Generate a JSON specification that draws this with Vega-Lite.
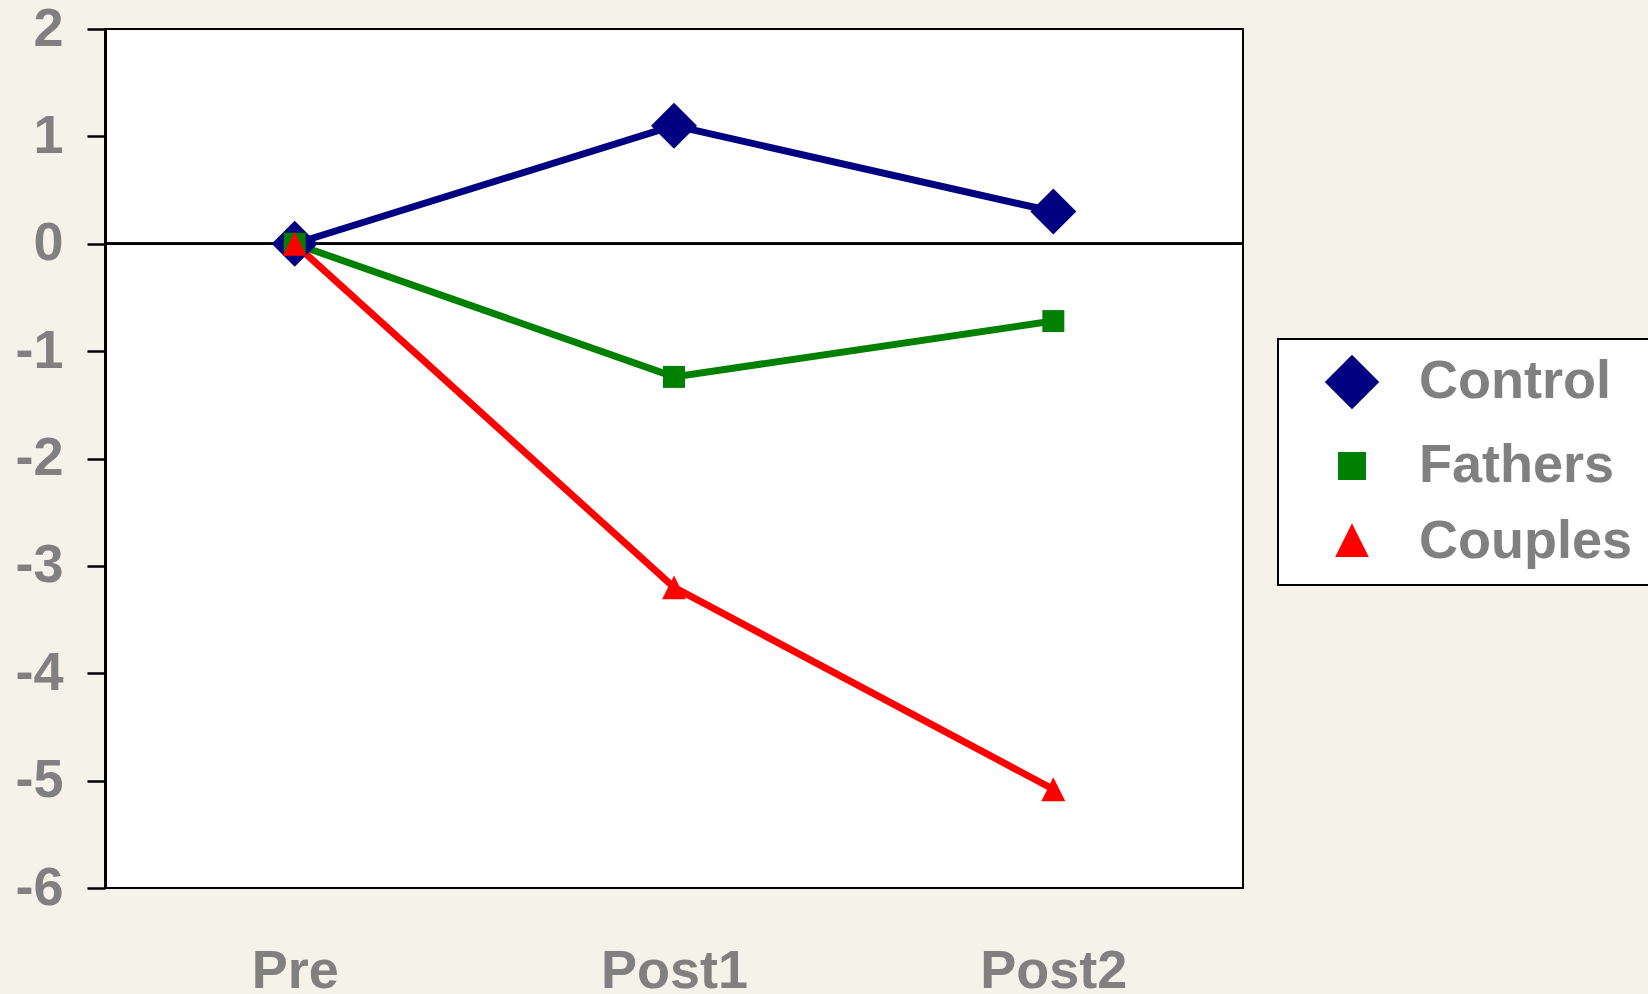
{
  "$schema": "https://vega.github.io/schema/vega-lite/v6.json",
  "width": 1138,
  "height": 859,
  "autosize": "none",
  "padding": {"left": 105, "top": 29, "right": 405, "bottom": 106},
  "background": "#F5F2EA",
  "data": {
    "values": [
      {"time": "Pre", "group": "Control", "value": 0},
      {"time": "Post1", "group": "Control", "value": 1.1},
      {"time": "Post2", "group": "Control", "value": 0.3},
      {"time": "Pre", "group": "Fathers", "value": 0},
      {"time": "Post1", "group": "Fathers", "value": -1.24},
      {"time": "Post2", "group": "Fathers", "value": -0.72},
      {"time": "Pre", "group": "Couples", "value": 0},
      {"time": "Post1", "group": "Couples", "value": -3.2},
      {"time": "Post2", "group": "Couples", "value": -5.08}
    ]
  },
  "layer": [
    {
      "mark": {"type": "rule", "color": "black", "strokeWidth": 2},
      "encoding": {"y": {"datum": 0, "type": "quantitative", "scale": {"domain": [-6, 2], "nice": false, "zero": false}, "axis": {"values": [-6, -5, -4, -3, -2, -1, 0, 1, 2], "labelExpr": "datum.value < 0 ? '-' + abs(datum.value) : '' + datum.value"}}}
    },
    {
      "mark": {"type": "line", "strokeWidth": 7},
      "encoding": {
        "x": {"field": "time", "type": "ordinal", "sort": ["Pre", "Post1", "Post2"]},
        "y": {"field": "value", "type": "quantitative", "scale": {"domain": [-6, 2], "nice": false, "zero": false}},
        "color": {"field": "group", "type": "nominal", "scale": {"domain": ["Control", "Fathers", "Couples"], "range": ["#000080", "#008000", "#FF0000"]}}
      }
    },
    {
      "mark": {"type": "point", "filled": true, "opacity": 1, "size": 2116},
      "encoding": {
        "x": {"field": "time", "type": "ordinal", "sort": ["Pre", "Post1", "Post2"]},
        "y": {"field": "value", "type": "quantitative"},
        "color": {
          "field": "group", "type": "nominal",
          "scale": {"domain": ["Control", "Fathers", "Couples"], "range": ["#000080", "#008000", "#FF0000"]},
          "legend": {
            "orient": "none", "legendX": 1173, "legendY": 310,
            "title": null,
            "padding": 16,
            "fillColor": "white", "strokeColor": "black",
            "symbolSize": 2116, "symbolStrokeWidth": 6, "symbolOffset": 31,
            "labelFont": "Liberation Sans", "labelFontSize": 54, "labelFontWeight": "bold", "labelColor": "#808080",
            "labelOffset": 40, "rowPadding": 22, "labelLimit": 400,
            "encode": {
              "symbols": {
                "shape": {"value": {"expr": "datum.value === 'Control' ? 'M-2.26,0H2.26M-0.68,0L0,-0.72L0.68,0L0,0.72Z' : datum.value === 'Fathers' ? 'M-2.26,0H2.26M-0.35,-0.35H0.35V0.35H-0.35Z' : 'M-2.26,0H2.26M0,-0.4L0.37,0.37L-0.37,0.37Z'"}},
                "stroke": {"value": {"expr": "datum.value === 'Control' ? '#000080' : datum.value === 'Fathers' ? '#008000' : '#FF0000'"}},
                "strokeWidth": {"value": 6.5},
                "opacity": {"value": 1}
              }
            }
          }
        },
        "shape": {
          "field": "group", "type": "nominal",
          "scale": {"domain": ["Control", "Fathers", "Couples"], "range": ["M-1,0L0,-1L1,0L0,1Z", "M-0.478,-0.478H0.478V0.478H-0.478Z", "M0,-0.52L0.52,0.52L-0.52,0.52Z"]}
        }
      }
    }
  ],
  "config": {
    "view": {"stroke": "black", "strokeWidth": 2, "fill": "white"},
    "font": "Liberation Sans",
    "legend": {"strokeWidth": 2},
    "axisX": {
      "title": null, "domain": false, "ticks": false, "tickSize": 0, "labelPadding": 56, "labelAngle": 0,
      "labelFontSize": 54, "labelFontWeight": "bold", "labelColor": "#808080", "labelFont": "Liberation Sans", "grid": false
    },
    "axisY": {
      "title": null,
      "domainColor": "black", "domainWidth": 3, "tickColor": "black", "tickWidth": 2.5, "tickSize": 18,
      "labelPadding": 24, "labelOffset": 0, "labelFlush": false, "labelOverlap": false,
      "labelFontSize": 54, "labelFontWeight": "bold", "labelColor": "#808080", "labelFont": "Liberation Sans", "grid": false
    }
  }
}
